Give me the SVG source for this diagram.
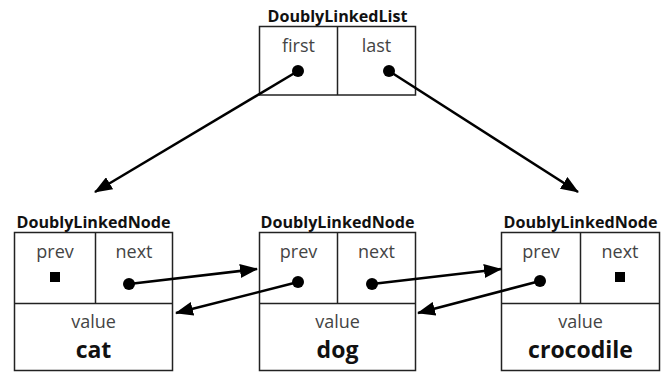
<svg xmlns="http://www.w3.org/2000/svg" width="668" height="372" viewBox="0 0 668 372">
<style>
.box{fill:#fff;stroke:#222;stroke-width:1.5}
.div{stroke:#222;stroke-width:1.5}
.title{font-family:"Open Sans","DejaVu Sans",sans-serif;font-weight:bold;font-size:15.5px;fill:#111;text-anchor:middle}
.lab{font-family:"Open Sans","DejaVu Sans",sans-serif;font-size:18px;fill:#444;text-anchor:middle}
.val{font-family:"Open Sans","DejaVu Sans",sans-serif;font-weight:bold;font-size:23px;fill:#111;text-anchor:middle}
.ptr{stroke:#000;stroke-width:2.5;fill:none;marker-end:url(#ah)}
</style>
<defs>
<marker id="ah" markerUnits="userSpaceOnUse" markerWidth="18" markerHeight="14" refX="17" refY="7" orient="auto" viewBox="0 0 18 14">
<path d="M0,0 L18,7 L0,14 Z" fill="#000"/>
</marker>
</defs>
<g id="list">
<text class="title" x="337.5" y="22" textLength="140" lengthAdjust="spacingAndGlyphs">DoublyLinkedList</text>
<rect class="box" x="259.5" y="26.5" width="156" height="68.5"/>
<line class="div" x1="337.5" y1="26.5" x2="337.5" y2="95"/>
<text class="lab" x="298.5" y="52">first</text>
<text class="lab" x="376.5" y="52">last</text>
</g>
<g id="node-cat">
<text class="title" x="93.5" y="228" textLength="154" lengthAdjust="spacingAndGlyphs">DoublyLinkedNode</text>
<rect class="box" x="14.5" y="232.5" width="158" height="138"/>
<line class="div" x1="95.5" y1="232.5" x2="95.5" y2="303.5"/>
<line class="div" x1="14.5" y1="303.5" x2="172.5" y2="303.5"/>
<text class="lab" x="55" y="258">prev</text>
<text class="lab" x="134" y="258">next</text>
<rect x="50" y="272" width="10" height="10" fill="#000"/>
<text class="lab" x="93.5" y="328">value</text>
<text class="val" x="93.5" y="358">cat</text>
</g>
<g id="node-dog">
<text class="title" x="337.5" y="228" textLength="154" lengthAdjust="spacingAndGlyphs">DoublyLinkedNode</text>
<rect class="box" x="259.5" y="232.5" width="156" height="138"/>
<line class="div" x1="337.5" y1="232.5" x2="337.5" y2="303.5"/>
<line class="div" x1="259.5" y1="303.5" x2="415.5" y2="303.5"/>
<text class="lab" x="298.5" y="258">prev</text>
<text class="lab" x="376.5" y="258">next</text>
<text class="lab" x="337.5" y="328">value</text>
<text class="val" x="337.5" y="358">dog</text>
</g>
<g id="node-crocodile">
<text class="title" x="580.5" y="228" textLength="154" lengthAdjust="spacingAndGlyphs">DoublyLinkedNode</text>
<rect class="box" x="501.5" y="232.5" width="158" height="138"/>
<line class="div" x1="580.5" y1="232.5" x2="580.5" y2="303.5"/>
<line class="div" x1="501.5" y1="303.5" x2="659.5" y2="303.5"/>
<text class="lab" x="541" y="258">prev</text>
<text class="lab" x="620" y="258">next</text>
<rect x="615" y="272" width="10" height="10" fill="#000"/>
<text class="lab" x="580.5" y="328">value</text>
<text class="val" x="580.5" y="358">crocodile</text>
</g>
<g id="connectors">
<line class="ptr" x1="298" y1="71" x2="95" y2="192"/>
<line class="ptr" x1="389" y1="71" x2="578" y2="192"/>
<line class="ptr" x1="129" y1="284" x2="257" y2="269"/>
<line class="ptr" x1="298" y1="282" x2="176" y2="313"/>
<line class="ptr" x1="372" y1="284" x2="501" y2="269"/>
<line class="ptr" x1="540" y1="281" x2="418" y2="313"/>
<circle cx="298" cy="71" r="6" fill="#000"/>
<circle cx="389" cy="71" r="6" fill="#000"/>
<circle cx="129" cy="284" r="6" fill="#000"/>
<circle cx="298" cy="282" r="6" fill="#000"/>
<circle cx="372" cy="284" r="6" fill="#000"/>
<circle cx="540" cy="281" r="6" fill="#000"/>
</g>
</svg>
